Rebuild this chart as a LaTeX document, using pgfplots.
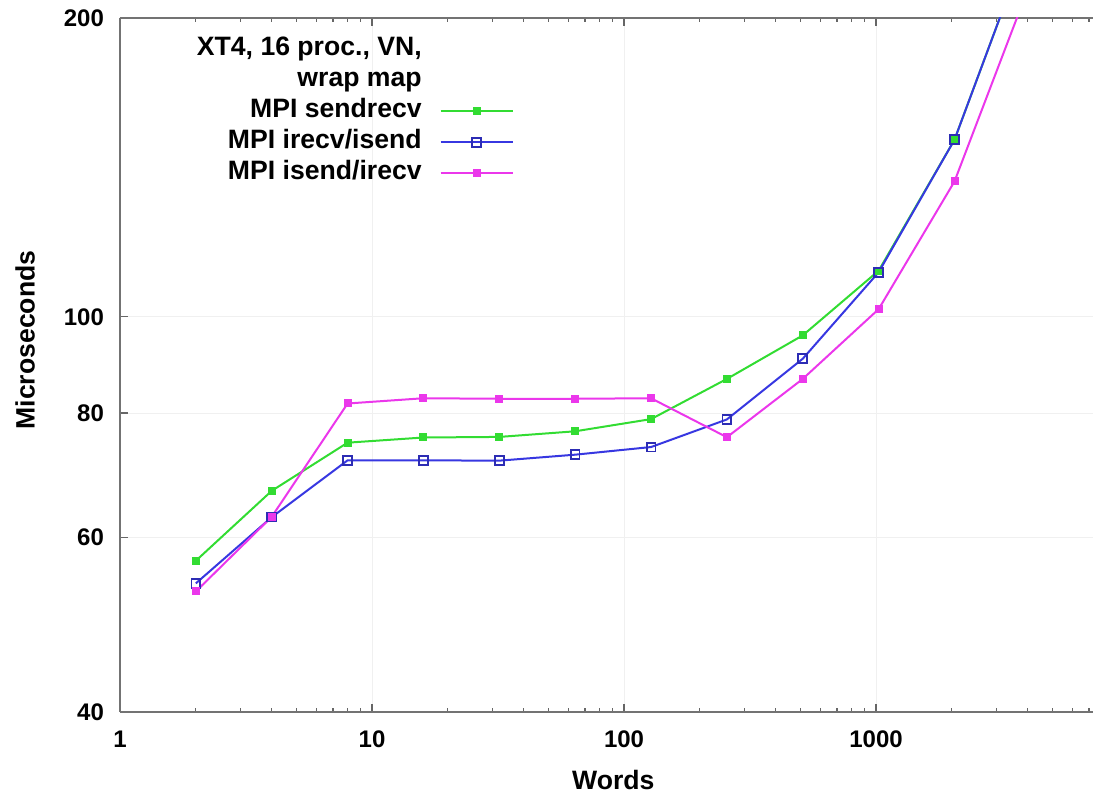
\documentclass[border=0pt]{standalone}
\usepackage{fontspec}
\setmainfont{Liberation Sans}
\usepackage{pgfplots}
\pgfplotsset{compat=1.18}
\definecolor{cgreen}{RGB}{50,220,50}
\definecolor{cblue}{RGB}{55,55,225}
\definecolor{cmag}{RGB}{235,55,235}
\newcommand{\lbl}{\fontsize{12}{14}\selectfont\bfseries}
\newcommand{\biglbl}{\fontsize{13.3}{15}\selectfont\bfseries}
\begin{document}
\begin{tikzpicture}
\begin{axis}[
  scale only axis, width=486.5pt, height=347pt,
  xmode=log, ymode=log,
  xmin=1, xmax=7260, ymin=40, ymax=200,
  axis x line=box, axis y line=left,
  axis line style={-, black!55, line width=0.9pt},
  tick align=inside,
  major tick length=4pt, minor tick length=2pt,
  tick style={black!60, line width=0.6pt},
  grid=major, major grid style={gray!12, line width=0.4pt},
  xtick={1,10,100,1000}, xticklabels={1,10,100,1000},
  minor xtick={2,3,4,5,6,7,8,9,20,30,40,50,60,70,80,90,200,300,400,500,600,700,800,900,2000,3000,4000,5000,6000,7000},
  ytick={40,60,80,100,200}, yticklabels={40,60,80,100,200},
  minor ytick={},
  xticklabel style={font=\lbl, yshift=-6pt},
  yticklabel style={font=\lbl, xshift=-4.5pt},
  xlabel={Words}, ylabel={Microseconds},
  every axis x label/.style={at={(rel axis cs:0.507,0)}, anchor=center, yshift=-34pt, font=\biglbl},
  every axis y label/.style={at={(rel axis cs:0,0.536)}, rotate=90, anchor=center, yshift=47.5pt, font=\biglbl},
  legend plot pos=right,
  legend cell align=right,
  legend image code/.code={\draw[mark repeat=2,mark phase=2,#1] plot coordinates {(0pt,0pt) (18pt,0pt) (36pt,0pt)};},
  legend style={draw=none, fill=none, at={(rel axis cs:0.405,0.975)}, anchor=north east,
    font=\biglbl, row sep=2pt, column sep=8pt, inner sep=0pt,
    nodes={inner sep=1pt, text height=9pt, text depth=2.5pt}},
]
\addlegendimage{empty legend}
\addlegendentry{XT4, 16 proc., VN,}
\addlegendimage{empty legend}
\addlegendentry{wrap map}
\addplot[cgreen, line width=1pt, mark=square*, mark size=1.5pt, mark options={solid}] coordinates {
(2,56.8) (4,66.8) (8,74.7) (16,75.6) (32,75.7) (64,76.7) (128,78.9) (256,86.6) (512,95.8) (1024,111.3) (2048,150.8) (4096,242)
};
\addlegendentry{MPI sendrecv}
\addplot[cblue, line width=1pt, mark=square, mark size=2.2pt, mark options={solid, line width=0.9pt, draw=cblue!80!black}] coordinates {
(2,53.9) (4,62.85) (8,71.7) (16,71.7) (32,71.65) (64,72.65) (128,73.95) (256,78.85) (512,90.75) (1024,110.9) (2048,150.8) (4096,242)
};
\addlegendentry{MPI irecv/isend}
\addplot[cmag, line width=1pt, mark=square*, mark size=1.5pt, mark options={solid}] coordinates {
(2,52.9) (4,62.9) (8,81.8) (16,82.8) (32,82.7) (64,82.7) (128,82.8) (256,75.65) (512,86.6) (1024,101.8) (2048,136.9) (4096,217)
};
\addlegendentry{MPI isend/irecv}
\end{axis}
\pgfresetboundingbox
\path[use as bounding box] ([shift={(-60pt,-40.5pt)}]current axis.south west) rectangle ([shift={(0pt,9pt)}]current axis.north east);
\end{tikzpicture}
\end{document}
